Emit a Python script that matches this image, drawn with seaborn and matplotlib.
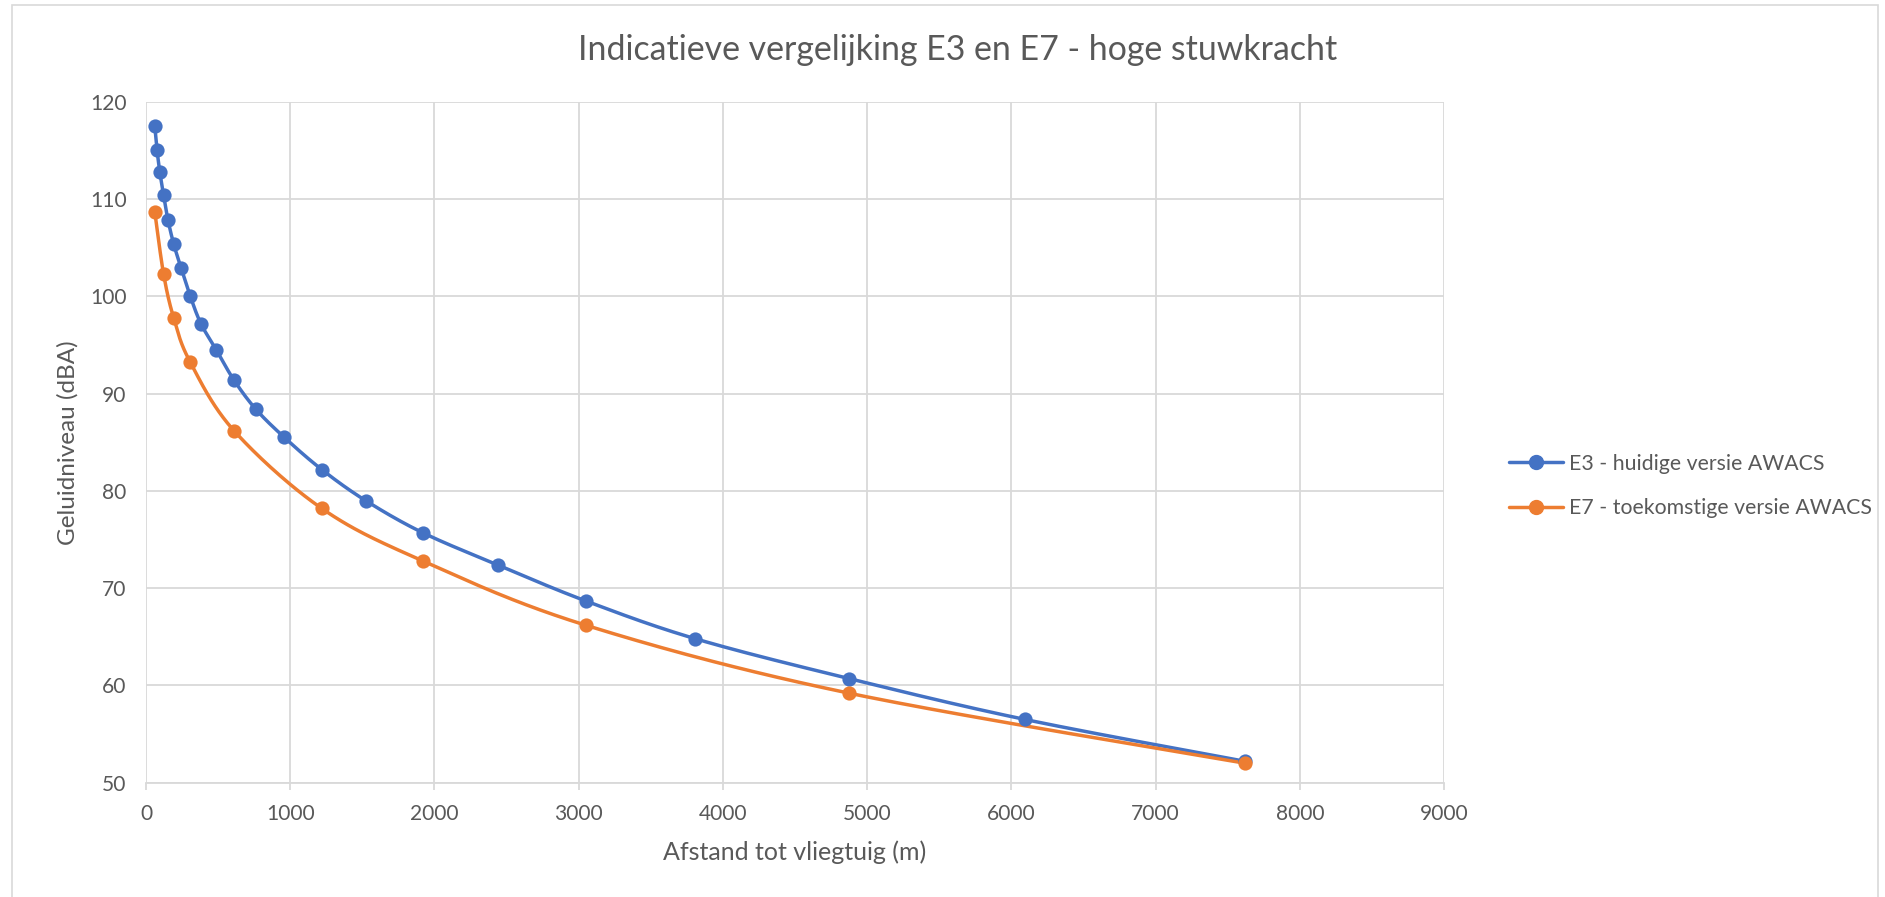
import numpy as np
import pandas as pd
import matplotlib
matplotlib.use("Agg")
import matplotlib.pyplot as plt
import seaborn as sns
from matplotlib.lines import Line2D
from matplotlib.patches import Rectangle

# ---------------- data ----------------
title = "Indicatieve vergelijking E3 en E7 - hoge stuwkracht"
x_label = "Afstand tot vliegtuig (m)"
y_label = "Geluidniveau (dBA)"
series_e3 = "E3 - huidige versie AWACS"
series_e7 = "E7 - toekomstige versie AWACS"

e3_dist = [61, 76, 96, 122, 152, 192, 244, 305, 381, 488, 610, 762, 960,
           1219, 1524, 1920, 2438, 3048, 3810, 4877, 6096, 7620]
e3_db = [117.5, 115.1, 112.8, 110.4, 107.9, 105.4, 102.9, 100.1, 97.2, 94.5,
         91.4, 88.4, 85.5, 82.2, 79.0, 75.7, 72.4, 68.7, 64.8, 60.7, 56.5, 52.2]
e7_dist = [61, 122, 192, 305, 610, 1219, 1920, 3048, 4877, 7620]
e7_db = [108.7, 102.3, 97.8, 93.3, 86.2, 78.2, 72.8, 66.2, 59.2, 52.0]

x_ticks = list(range(0, 9001, 1000))
y_ticks = list(range(50, 121, 10))

# ---------------- style ----------------
W, H = 1885, 897
sns.set_theme(style="white")
plt.rcParams["font.family"] = ["Lato", "DejaVu Sans"]
TEXT = "#595959"
GRID = "#d9d9d9"
BLUE = "#4472C4"
ORANGE = "#ED7D31"

fig = plt.figure(figsize=(W / 100, H / 100), dpi=100)
fig.patch.set_facecolor("white")
left, right, top, bottom = 146, 1444, 102, 782.7
ax = fig.add_axes([left / W, 1 - bottom / H, (right - left) / W, (bottom - top) / H])


def smooth(xs, ys, n=40):
    P = np.column_stack([xs, ys]).astype(float)
    out = [P[0]]
    t = np.linspace(0, 1, n)[1:, None]
    for i in range(len(P) - 1):
        p0 = P[i - 1] if i > 0 else P[i]
        p1, p2 = P[i], P[i + 1]
        p3 = P[i + 2] if i + 2 < len(P) else P[i + 1]
        c1 = p1 + (p2 - p0) / 6.0
        c2 = p2 - (p3 - p1) / 6.0
        seg = (1 - t) ** 3 * p1 + 3 * (1 - t) ** 2 * t * c1 + 3 * (1 - t) * t ** 2 * c2 + t ** 3 * p2
        out.extend(seg)
    return np.array(out)


df_e3 = pd.DataFrame({"afstand": e3_dist, "db": e3_db})
df_e7 = pd.DataFrame({"afstand": e7_dist, "db": e7_db})

for df, col in ((df_e3, BLUE), (df_e7, ORANGE)):
    s = smooth(df["afstand"].values, df["db"].values)
    sdf = pd.DataFrame({"afstand": s[:, 0], "db": s[:, 1]})
    sns.lineplot(data=sdf, x="afstand", y="db", sort=False, estimator=None,
                 color=col, lw=2.5, ax=ax, zorder=3)
    sns.scatterplot(data=df, x="afstand", y="db", color=col, s=105,
                    linewidth=0, ax=ax, zorder=4)

ax.set_xlim(0, 9000)
ax.set_ylim(50, 120)
ax.set_xticks(x_ticks)
ax.set_yticks(y_ticks)
ax.grid(True, color=GRID, lw=1.3)
ax.set_axisbelow(True)
for sp in ("top", "right", "left"):
    ax.spines[sp].set_visible(False)
ax.spines["bottom"].set_color(GRID)
ax.spines["bottom"].set_linewidth(1.3)
ax.tick_params(axis="x", length=5, width=1.3, color=GRID, labelcolor=TEXT,
               labelsize=15, pad=10, direction="out", bottom=True)
ax.tick_params(axis="y", length=0, labelcolor=TEXT, labelsize=15, pad=14, left=False)
ax.set_xlabel(x_label, color=TEXT, fontsize=15, labelpad=12)
ax.set_ylabel(y_label, color=TEXT, fontsize=15, labelpad=8)

ttl = fig.text(958 / W, 1 - 50 / H, title, ha="center", va="center",
               color=TEXT, fontsize=21)

handles = [
    Line2D([], [], color=BLUE, lw=2.5, marker="o", markersize=10),
    Line2D([], [], color=ORANGE, lw=2.5, marker="o", markersize=10),
]
leg = fig.legend(handles, [series_e3, series_e7], loc="center left",
                 bbox_to_anchor=(1509 / W, 1 - 486 / H), frameon=False,
                 fontsize=15, handlelength=2.6, handletextpad=0.3,
                 labelspacing=1.2, borderpad=0, borderaxespad=0)
for t in leg.get_texts():
    t.set_color(TEXT)

# chart-area border
fig.add_artist(Rectangle((12 / W, -0.01), (1878 - 12) / W, 1 - 5 / H + 0.01,
                         transform=fig.transFigure, fill=False,
                         edgecolor=GRID, lw=1.2))

# ---- fit font sizes to measured widths of the reference ----
fig.canvas.draw()
r = fig.canvas.get_renderer()


def fit(txt, target):
    w = txt.get_window_extent(r).width
    return txt.get_fontsize() * target / w


ttl.set_fontsize(fit(ttl, 760))
xl = ax.xaxis.label
xl.set_fontsize(fit(xl, 265))
yl = ax.yaxis.label
hgt = yl.get_window_extent(r).height
yl.set_fontsize(yl.get_fontsize() * 205 / hgt)
lab = [t for t in ax.get_xticklabels() if t.get_text() == "1000"][0]
tsz = fit(lab, 49)
ax.tick_params(axis="both", labelsize=tsz)
lsz = fit(leg.get_texts()[1], 302)
for t in leg.get_texts():
    t.set_fontsize(lsz)

fig.savefig("out.png", dpi=100, facecolor="white")
